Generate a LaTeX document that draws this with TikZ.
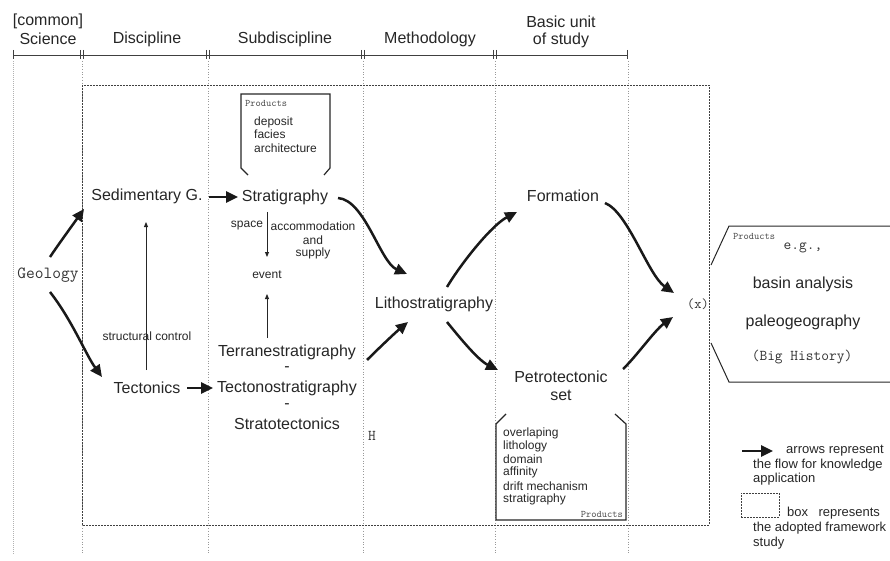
\documentclass[tikz,border=0pt]{standalone}
\usepackage{fontspec}
\setmainfont{Liberation Sans}
\usetikzlibrary{arrows.meta,calc}
\begin{document}
\begin{tikzpicture}[x=1pt,y=-1pt,
  big/.style={font=\fontsize{16}{19}\selectfont, inner sep=0pt, text=black!85},
  small/.style={font=\fontsize{12}{14}\selectfont, inner sep=0pt, text=black!85},
  item/.style={small, anchor=west},
  leg/.style={font=\fontsize{13}{15}\selectfont, inner sep=0pt, anchor=west, text=black!85},
  mono/.style={font=\ttfamily\fontsize{#1}{#1}\selectfont, inner sep=0pt, text=black!80},
  prod/.style={font=\ttfamily\fontsize{10}{11}\selectfont, inner sep=0pt, text=black!70},
  flow/.style={line width=2.5pt, black!90, -{Triangle[length=12pt,width=11pt]}},
  thinarrow/.style={line width=0.9pt, black!85, -{Triangle[length=5pt,width=4pt]}},
  guide/.style={gray!80, dotted, line width=0.7pt},
  frame/.style={black!75, dash pattern=on 2pt off 1pt, line width=0.8pt},
  pbox/.style={line width=1.2pt, black!85},
]
\useasboundingbox (0,0) rectangle (890,561);

% ---- header ----
\node[big] (h0a) at (48,21) {[common]};
\node[big] (h0b) at (48,39) {Science};
\node[big] (h1) at (147,39) {Discipline};
\node[big] (h2) at (285,39) {Subdiscipline};
\node[big] (h3) at (430,39) {Methodology};
\node[big] (h4a) at (561,22) {Basic unit};
\node[big] (h4b) at (561,40) {of study};
\draw[black!75, line width=0.8pt] (13,55) -- (627,55);
\foreach \x in {13,627} \draw[black!75, line width=0.8pt] (\x,50) -- (\x,59);
\foreach \x in {82,208,363,495} {
  \draw[black!75, line width=0.8pt] (\x-1.3,50) -- (\x-1.3,59);
  \draw[black!75, line width=0.8pt] (\x+1.3,50) -- (\x+1.3,59);
}
% ---- guides ----
\draw[gray!60, dash pattern=on 1pt off 1pt, line width=0.8pt] (13,61) -- (13,555);
\foreach \x in {82,208,363,495,628} \draw[guide] (\x,61) -- (\x,555);
% ---- framework box ----
\draw[frame] (82,85) rectangle (709,525);

% ---- products boxes ----
\draw[pbox] (248,175) -- (241,168) -- (241,94) -- (330,94) -- (330,168) -- (324,175);
\node[prod, anchor=west] (p1) at (245,103) {Products};
\node[item] (p1a) at (254,122) {deposit};
\node[item] (p1b) at (254,134) {facies};
\node[item] (p1c) at (254,148) {architecture};

\draw[pbox] (506,414) -- (496,424) -- (496,520) -- (626,520) -- (626,424) -- (615,414);
\node[item] (p2a) at (503,433) {overlaping};
\node[item] (p2b) at (503,446) {lithology};
\node[item] (p2c) at (503,459) {domain};
\node[item] (p2d) at (503,472) {affinity};
\node[item] (p2e) at (503,486) {drift mechanism};
\node[item] (p2f) at (503,499) {stratigraphy};
\node[prod, anchor=east] (p2) at (623,514) {Products};

\draw[pbox, line width=1pt] (890,226) -- (729,226) -- (711,265);
\draw[pbox, line width=1pt] (890,382) -- (729,382) -- (711,343);
\node[prod, anchor=west] (p3) at (733,236) {Products};
\node[mono=15] (p3a) at (803,248) {e.g.,};
\node[big] (p3b) at (803,284) {basin analysis};
\node[big] (p3c) at (803,322) {paleogeography};
\node[mono=15] (p3d) at (802,357) {(Big History)};

% ---- main nodes ----
\node[mono=17] (geo) at (48,275) {Geology};
\node[big] (sed) at (147,196) {Sedimentary G.};
\node[big] (tec) at (147,388) {Tectonics};
\node[small] (sc) at (147,336) {structural control};
\node[big] (strat) at (285,197) {Stratigraphy};
\node[small] (space) at (247,226) {space};
\node[small] (acc) at (313,226) {accommodation};
\node[small] (and) at (313,240) {and};
\node[small] (sup) at (313,253) {supply};
\node[small] (event) at (267,275) {event};
\node[big] (terr) at (287,352) {Terranestratigraphy};
\node[big] (d1) at (287,369) {-};
\node[big] (tecto) at (287,388) {Tectonostratigraphy};
\node[big] (d2) at (287,406) {-};
\node[big] (stt) at (287,424) {Stratotectonics};
\node[mono=15] (hh) at (372,436) {H};
\node[big] (litho) at (434,304) {Lithostratigraphy};
\node[big] (form) at (563,196) {Formation};
\node[big] (petro) at (561,377) {Petrotectonic};
\node[big] (set) at (561,395) {set};
\node[mono=14] (xx) at (698,304) {(x)};

% ---- thin arrows ----
\draw[thinarrow] ($(tec)+(-1,-18)$) -- ($(sed)+(-1,26)$);
\draw[thinarrow] ($(strat)+(-18,15)$) -- ($(event)+(0,-18)$);
\draw[thinarrow] ($(terr)+(-20,-14)$) -- ($(event)+(0,19)$);

% ---- flow arrows ----
\draw[flow] ($(geo)+(2,-18)$) .. controls +(8,-12) and +(-10,14) .. ($(sed)+(-63,13)$);
\draw[flow] ($(geo)+(2,17)$) .. controls +(22,28) and +(-16,-22) .. ($(tec)+(-45,-11)$);
\draw[flow] ($(sed)+(62,1)$) -- ($(strat)+(-47,0)$);
\draw[flow] ($(tec)+(40,0)$) -- ($(tecto)+(-74,0)$);
\draw[flow] ($(strat)+(53,1)$) .. controls +(27,2) and +(-27,-12) .. ($(litho)+(-27,-30)$);
\draw[flow] ($(terr)+(80,8)$) .. controls +(12,-12) and +(-12,10) .. ($(litho)+(-26,18)$);
\draw[flow] ($(litho)+(13,-17)$) .. controls +(15,-25) and +(-25,13) .. ($(form)+(-46,16)$);
\draw[flow] ($(litho)+(13,18)$) .. controls +(13,16) and +(-20,-10) .. ($(petro)+(-63,-7)$);
\draw[flow] ($(form)+(42,7)$) .. controls +(23,9) and +(-26,-18) .. ($(xx)+(-24,-11)$);
\draw[flow] ($(petro)+(62,-8)$) .. controls +(12,-11) and +(-18,13) .. ($(xx)+(-25,13)$);

% ---- legend ----
\coordinate (la1) at (742,451);
\coordinate (la2) at (773,451);
\draw[flow] (la1) -- (la2);
\node[leg] (l1) at (786,451) {arrows represent};
\node[leg] (l2) at (753,465) {the flow for knowledge};
\node[leg] (l3) at (753,479) {application};
\node[draw, frame, minimum width=38pt, minimum height=24pt, inner sep=0pt] (lbox) at (760,505) {};
\node[leg] (l4) at (787,513) {box\hspace{0.8em}represents};
\node[leg] (l5) at (753,528) {the adopted framework};
\node[leg] (l6) at (753,543) {study};
\end{tikzpicture}
\end{document}
